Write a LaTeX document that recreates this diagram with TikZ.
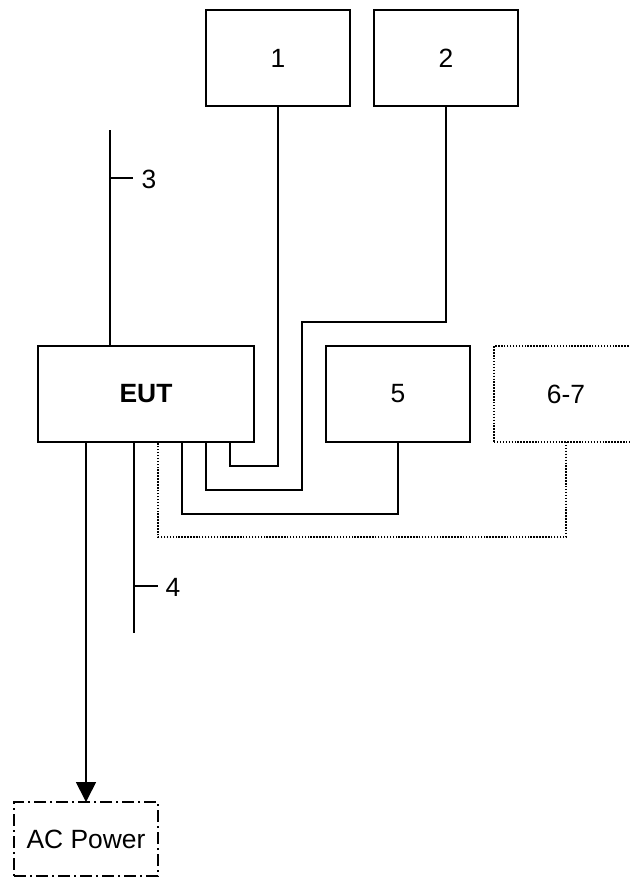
\documentclass[tikz,border=0pt]{standalone}
\usepackage{fontspec}
\setmainfont{Liberation Sans}
\usetikzlibrary{arrows.meta}
\begin{document}
\begin{tikzpicture}[x=0.75pt,y=-0.75pt,
  line width=1.3pt,
  font=\fontsize{19.8}{24}\selectfont,
  unit/.style={draw, rectangle, inner sep=0pt, outer sep=0pt, minimum width=108pt, minimum height=72pt},
  dotbox/.style={unit, dash pattern=on 1.1pt off 1.1pt},
  acbox/.style={unit, minimum height=55.5pt, dash pattern=on 9pt off 3pt on 1.5pt off 3pt},
  dotline/.style={dash pattern=on 1.1pt off 1.1pt},
  lbl/.style={inner sep=0pt}]
\useasboundingbox (0,0) rectangle (630,878);
% boxes
\node[unit] (b1) at (278,58) {1};
\node[unit] (b2) at (446,58) {2};
\node[unit, minimum width=162pt] (eut) at (146,394) {\textbf{EUT}};
\node[unit] (b5) at (398,394) {5};
\node[dotbox] (b67) at (566,394) {6-7};
\node[acbox] (ac) at (86,839) {AC Power};
% ports on EUT
\coordinate (pac) at (86,442);
\coordinate (p4) at (134,442);
\coordinate (p67) at (158,442);
\coordinate (p5) at (182,442);
\coordinate (p2) at (206,442);
\coordinate (p1) at (230,442);
\coordinate (p3) at (110,346);
% cable 3
\coordinate (t3) at (110,130);
\coordinate (k3) at (110,178);
\node[lbl] (l3) at (149,179) {3};
\draw (t3) -- (p3);
\draw (k3) -- ++(23,0);
% cable 4
\coordinate (t4) at (134,633);
\coordinate (k4) at (134,586);
\node[lbl] (l4) at (173,587) {4};
\draw (p4) -- (t4);
\draw (k4) -- ++(24,0);
% connections
\draw (b1.south) |- (230,466) -- (p1);
\draw (b2.south) |- (302,322) |- (206,490) -- (p2);
\draw (b5.south) |- (182,514) -- (p5);
\draw[dotline] (b67.south) |- (158,537) -- (p67);
\draw[-{Triangle[length=15pt,width=15pt]}] (pac) -- (ac.north);
\end{tikzpicture}
\end{document}
